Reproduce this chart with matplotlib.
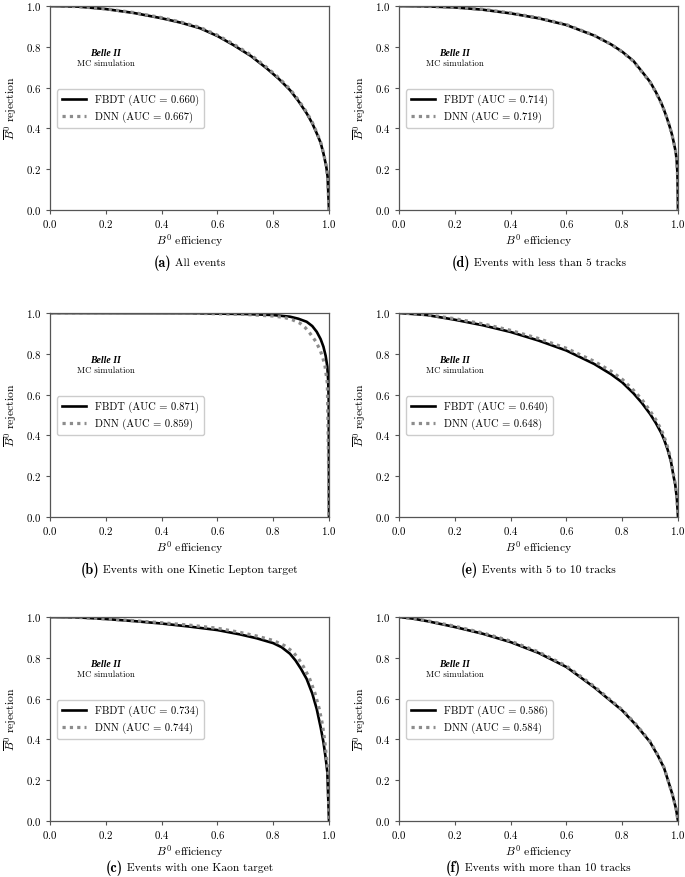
import matplotlib
matplotlib.use("Agg")
import matplotlib.pyplot as plt
import numpy as np

plt.rcParams['mathtext.fontset'] = 'cm'
plt.rcParams['font.family'] = 'serif'
plt.rcParams['font.serif'] = ['cmr10', 'DejaVu Serif']
plt.rcParams['axes.formatter.use_mathtext'] = True

# ROC curves: (B0 efficiency, anti-B0 rejection)
a_fbdt_x = [0, 0.1, 0.2, 0.3, 0.4, 0.47, 0.538, 0.6, 0.657, 0.72, 0.777, 0.82, 0.86, 0.89,
            0.92, 0.94, 0.956, 0.97, 0.98, 0.99, 0.995, 1.0]
a_fbdt_y = [1.0, 0.997, 0.985, 0.966, 0.94, 0.918, 0.891, 0.853, 0.809, 0.755, 0.694, 0.643,
            0.588, 0.535, 0.474, 0.425, 0.376, 0.33, 0.278, 0.215, 0.163, 0.0]
a_dnn_x = [0, 0.1, 0.2, 0.3, 0.4, 0.47, 0.538, 0.6, 0.657, 0.72, 0.777, 0.82, 0.86, 0.89,
           0.92, 0.94, 0.956, 0.97, 0.98, 0.99, 0.995, 1.0]
a_dnn_y = [1.0, 0.997, 0.986, 0.968, 0.943, 0.921, 0.895, 0.857, 0.814, 0.76, 0.699, 0.648,
           0.593, 0.54, 0.479, 0.43, 0.38, 0.333, 0.281, 0.217, 0.165, 0.0]

b_fbdt_x = [0, 0.5, 0.7, 0.8, 0.86, 0.89, 0.92, 0.94, 0.956, 0.97, 0.98, 0.988, 0.994, 0.997,
            0.999, 1.0]
b_fbdt_y = [1.0, 0.999, 0.995, 0.99, 0.982, 0.972, 0.957, 0.936, 0.908, 0.872, 0.835, 0.79,
            0.737, 0.67, 0.574, 0.0]
b_dnn_x = [0, 0.5, 0.7, 0.8, 0.84, 0.87, 0.896, 0.915, 0.932, 0.952, 0.968, 0.978, 0.986,
           0.994, 0.998, 1.0]
b_dnn_y = [1.0, 0.999, 0.993, 0.985, 0.978, 0.966, 0.95, 0.928, 0.90, 0.862, 0.819, 0.78,
           0.737, 0.655, 0.3, 0.0]

c_fbdt_x = [0, 0.1, 0.2, 0.3, 0.4, 0.5, 0.6, 0.68, 0.74, 0.8, 0.83, 0.86, 0.88, 0.9, 0.92,
            0.94, 0.956, 0.97, 0.98, 0.988, 0.994, 1.0]
c_fbdt_y = [1.0, 0.998, 0.99, 0.98, 0.968, 0.953, 0.936, 0.915, 0.896, 0.872, 0.852, 0.82,
            0.787, 0.745, 0.696, 0.625, 0.549, 0.46, 0.387, 0.31, 0.24, 0.0]
c_dnn_x = [0, 0.1, 0.2, 0.3, 0.4, 0.5, 0.6, 0.68, 0.74, 0.8, 0.84, 0.87, 0.89, 0.91, 0.93,
           0.95, 0.965, 0.977, 0.985, 0.991, 0.996, 1.0]
c_dnn_y = [1.0, 0.998, 0.991, 0.982, 0.972, 0.96, 0.945, 0.925, 0.907, 0.885, 0.86, 0.83,
           0.797, 0.753, 0.70, 0.625, 0.55, 0.47, 0.39, 0.31, 0.24, 0.0]

d_fbdt_x = [0, 0.1, 0.2, 0.3, 0.4, 0.5, 0.6, 0.7, 0.76, 0.8, 0.84, 0.87, 0.9, 0.92, 0.94, 0.95,
            0.96, 0.97, 0.978, 0.985, 0.991, 0.995, 0.998, 1.0]
d_fbdt_y = [1.0, 0.998, 0.993, 0.982, 0.964, 0.94, 0.907, 0.855, 0.812, 0.776, 0.731, 0.68,
            0.628, 0.58, 0.525, 0.49, 0.452, 0.41, 0.372, 0.33, 0.29, 0.25, 0.18, 0.0]
d_dnn_x = [0, 0.1, 0.2, 0.3, 0.4, 0.5, 0.6, 0.7, 0.76, 0.8, 0.84, 0.87, 0.9, 0.92, 0.94, 0.95,
           0.96, 0.97, 0.978, 0.985, 0.991, 0.995, 0.998, 1.0]
d_dnn_y = [1.0, 0.998, 0.994, 0.984, 0.966, 0.942, 0.909, 0.856, 0.812, 0.775, 0.729, 0.678,
           0.626, 0.578, 0.523, 0.49, 0.452, 0.41, 0.372, 0.33, 0.29, 0.25, 0.18, 0.0]

e_fbdt_x = [0, 0.1, 0.2, 0.3, 0.4, 0.5, 0.6, 0.7, 0.76, 0.8, 0.84, 0.87, 0.9, 0.92, 0.94,
            0.95, 0.963, 0.975, 0.984, 0.99, 0.996, 1.0]
e_fbdt_y = [1.0, 0.99, 0.967, 0.94, 0.907, 0.865, 0.816, 0.75, 0.70, 0.66, 0.607, 0.56, 0.505,
            0.462, 0.412, 0.38, 0.33, 0.27, 0.2, 0.16, 0.09, 0.0]
e_dnn_x = [0, 0.1, 0.2, 0.3, 0.4, 0.5, 0.6, 0.7, 0.76, 0.8, 0.84, 0.87, 0.9, 0.92, 0.94,
           0.95, 0.963, 0.975, 0.984, 0.99, 0.996, 1.0]
e_dnn_y = [1.0, 0.992, 0.972, 0.947, 0.915, 0.875, 0.827, 0.763, 0.715, 0.675, 0.622, 0.577,
           0.52, 0.478, 0.428, 0.395, 0.342, 0.28, 0.207, 0.165, 0.093, 0.0]

f_fbdt_x = [0, 0.05, 0.1, 0.2, 0.3, 0.4, 0.5, 0.6, 0.7, 0.8, 0.85, 0.9, 0.93, 0.95, 0.964,
            0.98, 0.993, 1.0]
f_fbdt_y = [1.0, 0.992, 0.98, 0.951, 0.918, 0.877, 0.824, 0.755, 0.655, 0.542, 0.47, 0.387,
            0.315, 0.26, 0.2, 0.13, 0.06, 0.0]
f_dnn_x = [0, 0.05, 0.1, 0.2, 0.3, 0.4, 0.5, 0.6, 0.7, 0.8, 0.85, 0.9, 0.93, 0.95, 0.964,
           0.98, 0.993, 1.0]
f_dnn_y = [1.0, 0.993, 0.982, 0.955, 0.922, 0.882, 0.829, 0.76, 0.66, 0.545, 0.473, 0.39,
           0.318, 0.262, 0.2, 0.13, 0.06, 0.0]

auc_fbdt = ['0.660', '0.871', '0.734', '0.714', '0.640', '0.586']
auc_dnn = ['0.667', '0.859', '0.744', '0.719', '0.648', '0.584']
letters = ['a', 'b', 'c', 'd', 'e', 'f']
captions = ['All events', 'Events with one Kinetic Lepton target',
            'Events with one Kaon target', 'Events with less than 5 tracks',
            'Events with 5 to 10 tracks', 'Events with more than 10 tracks']
curves = [(a_fbdt_x, a_fbdt_y, a_dnn_x, a_dnn_y),
          (b_fbdt_x, b_fbdt_y, b_dnn_x, b_dnn_y),
          (c_fbdt_x, c_fbdt_y, c_dnn_x, c_dnn_y),
          (d_fbdt_x, d_fbdt_y, d_dnn_x, d_dnn_y),
          (e_fbdt_x, e_fbdt_y, e_dnn_x, e_dnn_y),
          (f_fbdt_x, f_fbdt_y, f_dnn_x, f_dnn_y)]

fig = plt.figure(figsize=(6.85, 8.77), dpi=100)
W, H = 685.0, 877.0
lefts = [50, 399]
bottoms = [210, 517, 821]
cap_off = [53, 53, 47]
aw, ah = 279, 204
spine_col = '#555555'

caption_texts = []
for i in range(6):
    col = i // 3
    row = i % 3
    ax = fig.add_axes([lefts[col] / W, 1 - bottoms[row] / H, aw / W, ah / H])
    fx, fy, dx, dy = curves[i]
    ax.plot(fx, fy, color='black', lw=1.9, label='FBDT (AUC = %s)' % auc_fbdt[i])
    ax.plot(dx, dy, color='#8c8c8c', lw=2.3, ls=(0, (1, 1.3)),
            label='DNN (AUC = %s)' % auc_dnn[i])
    ax.set_xlim(0, 1)
    ax.set_ylim(0, 1)
    ax.set_xticks(np.arange(0, 1.01, 0.2))
    ax.set_yticks(np.arange(0, 1.01, 0.2))
    ax.tick_params(labelsize=7.8, length=3, width=0.8, color=spine_col, pad=3)
    for s in ax.spines.values():
        s.set_color(spine_col)
        s.set_linewidth(0.9)
    ax.set_xlabel(r'$B^0$ efficiency', fontsize=8.4, labelpad=1.5)
    ax.set_ylabel(r'$\overline{B}^0$ rejection', fontsize=8.4, labelpad=5)
    ax.text(0.2, 0.765, 'Belle II', transform=ax.transAxes, ha='center', va='center',
            fontsize=7, fontweight='bold', fontstyle='italic', family='Liberation Serif')
    ax.text(0.2, 0.716, 'MC simulation', transform=ax.transAxes, ha='center', va='center',
            fontsize=6.3)
    ax.legend(loc='center left', bbox_to_anchor=(0.005, 0.497), fontsize=7.6,
              handlelength=2.3, handletextpad=0.8, borderpad=0.5, labelspacing=0.5,
              framealpha=1, edgecolor='#cccccc')

    cx = (lefts[col] + aw / 2) / W
    cy = 1 - (bottoms[row] + cap_off[row]) / H
    t1 = fig.text(cx, cy, '(%s)' % letters[i], fontsize=10.2, va='center', ha='left')
    t1.set_fontname('cmb10')
    t2 = fig.text(cx, cy, ' ' + captions[i], fontsize=8.3, va='center', ha='left')
    caption_texts.append((t1, t2, cx))

# centre each caption (bold letter + text) under its axes
fig.canvas.draw()
r = fig.canvas.get_renderer()
for t1, t2, cx in caption_texts:
    w1 = t1.get_window_extent(r).width / W
    w2 = t2.get_window_extent(r).width / W
    start = cx - (w1 + w2) / 2
    y = t1.get_position()[1]
    t1.set_position((start, y))
    t2.set_position((start + w1, y))

fig.savefig('out.png', dpi=100)
